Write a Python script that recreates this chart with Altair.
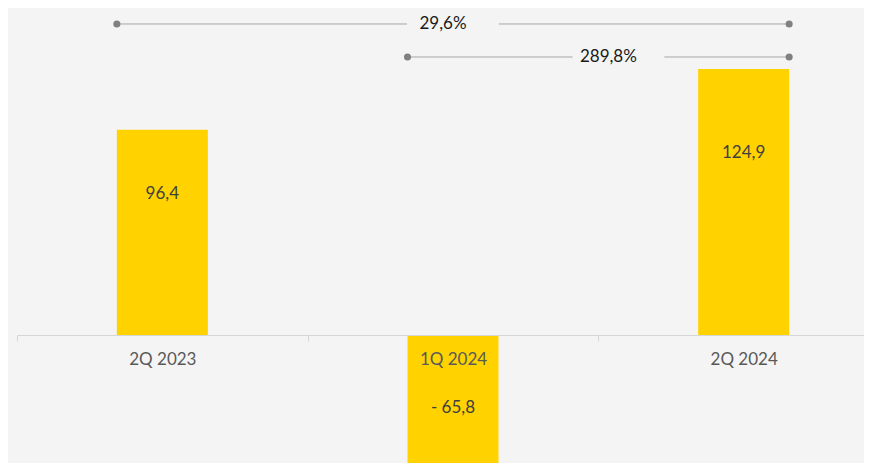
import altair as alt
import pandas as pd

# ---------------- data ----------------
categories = ["2Q 2023", "1Q 2024", "2Q 2024"]
values = [96.4, -65.8, 124.9]
value_labels = ["96,4", "- 65,8", "124,9"]

bracket_from = ["2Q 2023", "1Q 2024"]
bracket_to = ["2Q 2024", "2Q 2024"]
bracket_labels = ["29,6%", "289,8%"]

# ---------------- layout / style constants ----------------
PLOT_W = 847          # visible plot width (page must not overflow)
FULL_W = 872          # x range: the last band runs past the visible edge
PLOT_H = 455
Y_DOMAIN = [-60.1, 153.5]
AXIS_OFFSET = -128    # lift the category axis up to the zero line
BAR_FRAC = 0.313      # bar width as fraction of band
BRACKET_Y = [146.0, 130.5]      # bracket heights in data units
BRACKET_SHIFT = [0.0, 0.069]    # gap centre shift (band units)
GAP_HALF = 0.158                # half gap width (band units)
YELLOW = "#FFD200"
FONT = "Lato"

df = pd.DataFrame({"cat": categories, "value": values, "label": value_labels})

y_scale = alt.Scale(domain=Y_DOMAIN, nice=False, zero=False)

x_band = alt.X(
    "cat:N",
    sort=categories,
    scale=alt.Scale(range=[0, FULL_W], paddingInner=0, paddingOuter=0),
    axis=alt.Axis(
        title=None,
        labelAngle=0,
        tickBand="extent",
        tickSize=6,
        tickColor="#d6d6d6",
        domainColor="#d6d6d6",
        labelColor="#595959",
        labelFont=FONT,
        labelFontSize=17,
        labelPadding=10,
        offset=AXIS_OFFSET,
        zindex=1,
        grid=False,
    ),
)

bars = alt.Chart(df).mark_bar(
    color=YELLOW, clip=True, width=alt.RelativeBandSize(BAR_FRAC)
).encode(
    x=x_band,
    y=alt.Y("value:Q", scale=y_scale, axis=None),
)

bar_text = alt.Chart(df).transform_calculate(
    ly="datum.value > 0 ? datum.value * 0.685 : datum.value * 0.52"
).mark_text(
    font=FONT, fontSize=17, color="#404040", baseline="middle"
).encode(
    x=alt.X("cat:N", sort=categories),
    y=alt.Y("ly:Q", scale=y_scale, axis=None),
    text="label:N",
)

main = alt.layer(bars, bar_text)

# ---------------- brackets ----------------
seg_rows, dot_rows, lab_rows = [], [], []
for k, (a, b, lab) in enumerate(zip(bracket_from, bracket_to, bracket_labels)):
    i = categories.index(a)
    j = categories.index(b)
    x0 = i + 0.5 - BAR_FRAC / 2
    x1 = j + 0.5 + BAR_FRAC / 2
    gc = (x0 + x1) / 2 + BRACKET_SHIFT[k]
    yv = BRACKET_Y[k]
    seg_rows.append({"x": x0, "x2": gc - GAP_HALF, "y": yv})
    seg_rows.append({"x": gc + GAP_HALF, "x2": x1, "y": yv})
    dot_rows.append({"x": x0, "y": yv})
    dot_rows.append({"x": x1, "y": yv})
    lab_rows.append({"x": gc, "y": yv, "label": lab})

x_q_scale = alt.Scale(domain=[0, 3], range=[0, FULL_W], nice=False, zero=False)

segs = alt.Chart(pd.DataFrame(seg_rows)).mark_rule(
    color="#a6a6a6", strokeWidth=1
).encode(
    x=alt.X("x:Q", scale=x_q_scale, axis=None),
    x2="x2:Q",
    y=alt.Y("y:Q", scale=y_scale, axis=None),
)

dots = alt.Chart(pd.DataFrame(dot_rows)).mark_point(
    filled=True, color="#808080", size=50, opacity=1
).encode(
    x=alt.X("x:Q", scale=x_q_scale, axis=None),
    y=alt.Y("y:Q", scale=y_scale, axis=None),
)

br_text = alt.Chart(pd.DataFrame(lab_rows)).mark_text(
    font=FONT, fontSize=17, color="#1a1a1a", baseline="middle", dx=-10
).encode(
    x=alt.X("x:Q", scale=x_q_scale, axis=None),
    y=alt.Y("y:Q", scale=y_scale, axis=None),
    text="label:N",
)

brackets = alt.layer(segs, dots, br_text)

chart = alt.layer(main, brackets).resolve_scale(
    x="independent"
).properties(
    width=PLOT_W,
    height=PLOT_H,
    padding={"left": 9, "top": 0, "right": 0, "bottom": 0},
    autosize=alt.AutoSizeParams(type="none"),
    background="#f4f4f4",
).configure_view(stroke=None)

chart.save("out.html", embed_options={"renderer": "svg", "actions": False})
